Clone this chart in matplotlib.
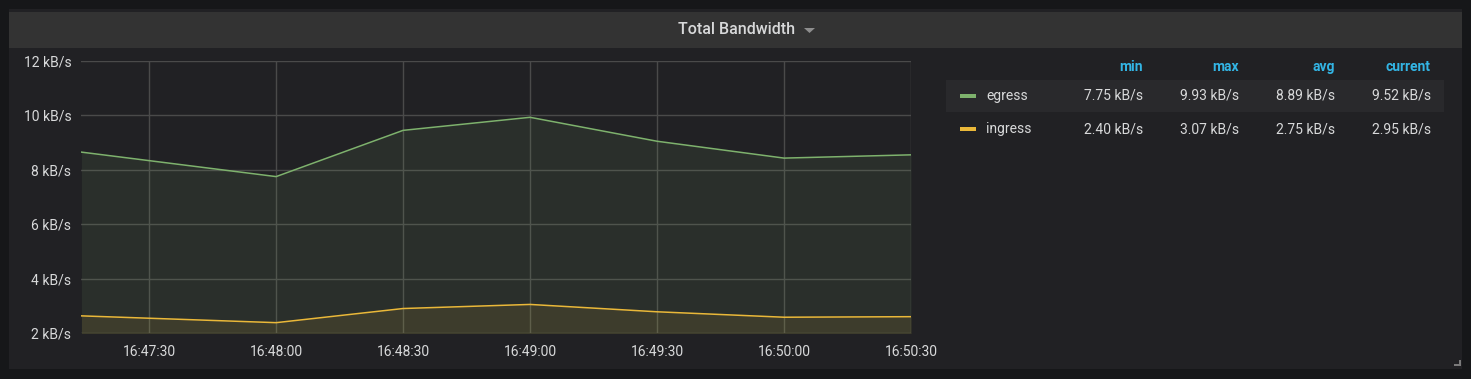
import numpy as np
import pandas as pd
import matplotlib
matplotlib.use("Agg")
import matplotlib.pyplot as plt
import matplotlib.dates as mdates
from matplotlib.patches import Rectangle, Polygon

plt.rcParams['font.family'] = ['Roboto', 'DejaVu Sans']

# data (kB/s)
times = pd.to_datetime(["2018-01-01 16:47:14", "2018-01-01 16:48:00", "2018-01-01 16:48:30",
                        "2018-01-01 16:49:00", "2018-01-01 16:49:30", "2018-01-01 16:50:00",
                        "2018-01-01 16:50:30"])
egress = [8.65, 7.75, 9.45, 9.93, 9.05, 8.43, 8.55]
ingress = [2.63, 2.38, 2.90, 3.05, 2.78, 2.58, 2.60]

series_names = ["egress", "ingress"]
series_colors = ["#7EB26D", "#EAB839"]
stat_cols = ["min", "max", "avg", "current"]
stats = [["7.75 kB/s", "9.93 kB/s", "8.89 kB/s", "9.52 kB/s"],
         ["2.40 kB/s", "3.07 kB/s", "2.75 kB/s", "2.95 kB/s"]]
y_ticks = [2, 4, 6, 8, 10, 12]

W, H = 1471, 379
fig = plt.figure(figsize=(W / 100, H / 100), dpi=100, facecolor="#161719")

def fx(px):
    return px / W

def fy(py):
    return 1 - py / H

# panel + header
fig.patches.append(Rectangle((fx(9), fy(369)), fx(1453), (360) / H, transform=fig.transFigure,
                             facecolor="#212124", edgecolor="none", zorder=0))
fig.patches.append(Rectangle((fx(9), fy(48)), fx(1453), 36 / H, transform=fig.transFigure,
                             facecolor="#333333", edgecolor="none", zorder=1))
fig.text(fx(737), fy(30), "Total Bandwidth", ha="center", va="center", color="#d8d9da",
         fontsize=11.5, fontweight="medium")
fig.patches.append(Polygon([[fx(804), fy(28)], [fx(815), fy(28)], [fx(809.5), fy(33)]],
                           closed=True, transform=fig.transFigure, facecolor="#8e8e8e",
                           edgecolor="none", zorder=2))
# resize handle
fig.patches.append(Polygon([[fx(1459), fy(360)], [fx(1461), fy(360)], [fx(1461), fy(366)],
                            [fx(1454), fy(366)], [fx(1454), fy(364)], [fx(1459), fy(364)]],
                           closed=True, transform=fig.transFigure, facecolor="#7a7a7a",
                           edgecolor="none", zorder=2))

ax = fig.add_axes([fx(81), fy(333), fx(830), 272 / H])
ax.set_zorder(5)
ax.set_facecolor("#212124")
for s in ax.spines.values():
    s.set_visible(False)

for vals, col in zip([egress, ingress], series_colors):
    ax.fill_between(times, vals, 0, color=col, alpha=0.1, linewidth=0, zorder=2)
    ax.plot(times, vals, color=col, linewidth=1.1, zorder=3)

ax.set_ylim(2, 12)
ax.set_xlim(pd.Timestamp("2018-01-01 16:47:13.9"), pd.Timestamp("2018-01-01 16:50:30"))
ax.set_yticks(y_ticks)
ax.set_yticklabels([f"{v} kB/s" for v in y_ticks])
ax.xaxis.set_major_locator(mdates.SecondLocator(bysecond=[0, 30]))
ax.xaxis.set_major_formatter(mdates.DateFormatter("%H:%M:%S"))
ax.grid(True, color="#4a4a4a", linewidth=1, zorder=1)
ax.set_axisbelow(True)
ax.tick_params(colors="#d8d9da", labelsize=10, length=0, pad=7)
ax.tick_params(axis="x", pad=9)

# legend table
fig.patches.append(Rectangle((fx(946), fy(112)), fx(498), 32 / H, transform=fig.transFigure,
                             facecolor="#29292c", edgecolor="none", zorder=1))
col_x = [1143, 1239, 1335, 1431]
for cx, name in zip(col_x, stat_cols):
    fig.text(fx(cx), fy(67), name, ha="right", va="center", color="#33b5e5",
             fontsize=10, fontweight="bold")
row_y = [96, 129]
for ry, name, col, vals in zip(row_y, series_names, series_colors, stats):
    fig.patches.append(Rectangle((fx(960), fy(ry + 2)), fx(16), 4 / H, transform=fig.transFigure,
                                 facecolor=col, edgecolor="none", zorder=2))
    fig.text(fx(986), fy(ry), name, ha="left", va="center", color="#d8d9da", fontsize=10)
    for cx, v in zip(col_x, vals):
        fig.text(fx(cx), fy(ry), v, ha="right", va="center", color="#d8d9da", fontsize=10)

fig.savefig("out.png", dpi=100, facecolor=fig.get_facecolor())
